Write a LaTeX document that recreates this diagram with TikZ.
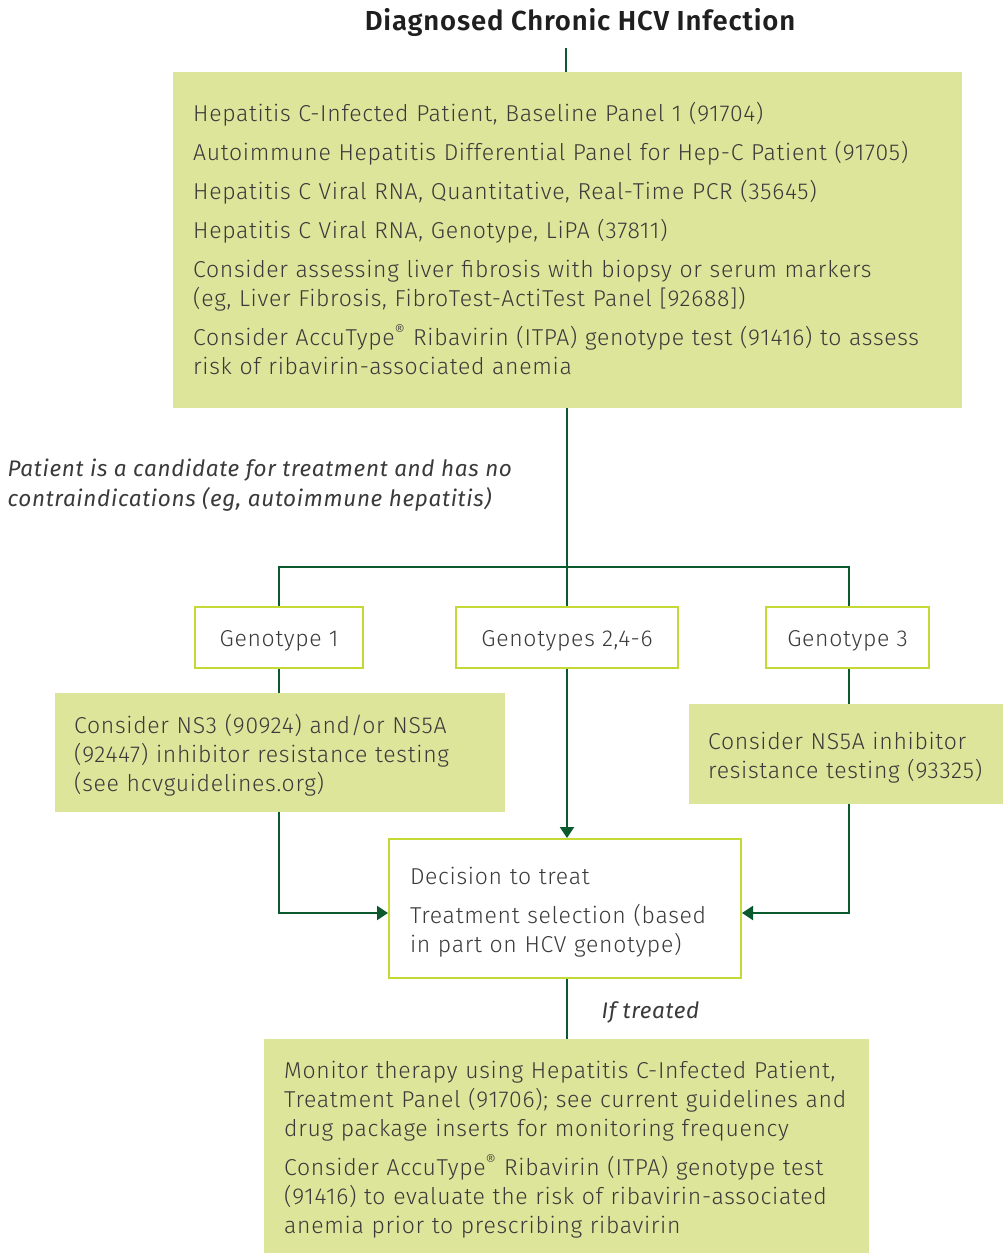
\documentclass[tikz,border=0pt]{standalone}
\usepackage{fontspec}
\setmainfont{Fira Sans}[UprightFont=* Light, ItalicFont=* Italic, BoldFont=* SemiBold, LetterSpace=3]
\usetikzlibrary{arrows.meta}
\definecolor{fillg}{HTML}{DDE59B}
\definecolor{edgeg}{HTML}{C5D934}
\definecolor{lineg}{HTML}{0B5A2E}
\definecolor{txt}{HTML}{3A3A3A}
\newcommand\LN[1]{\mbox{#1}}
\newcommand\TOPR{\rule{0pt}{24.5pt}}
\tikzset{
  fillbox/.style={fill=fillg, draw=none, anchor=north west, inner xsep=20pt, inner ysep=0pt, align=left, text=txt,
     font=\fontsize{23}{29}\selectfont},
  genobox/.style={draw=edgeg, line width=2pt, fill=white, minimum height=61pt, text height=25pt, text depth=5.5pt,
     inner ysep=0pt, text=txt, font=\fontsize{23}{29}\selectfont},
  decbox/.style={draw=edgeg, line width=2pt, fill=white, anchor=north west, inner xsep=21pt, align=left, text=txt,
     font=\fontsize{23}{29}\selectfont},
  conn/.style={draw=lineg, line width=2pt},
  arr/.style={conn, -{Triangle[length=11pt,width=14pt]}},
  lbl/.style={text=txt, font=\fontsize{22.5}{30}\selectfont\itshape, align=left},
}
\begin{document}
\begin{tikzpicture}[x=1pt,y=-1pt]
\useasboundingbox (0,0) rectangle (1004,1253);
\node[font=\fontsize{27.5}{32}\selectfont\bfseries, text=black!88] (title) at (580,22) {Diagnosed Chronic HCV Infection};

\node[fillbox, minimum width=789pt, minimum height=336pt, text width=749pt] (top) at (173,72) {%
\LN{Hepatitis C-Infected Patient, Baseline Panel 1 (91704)}\\[10pt]
\LN{Autoimmune Hepatitis Differential Panel for Hep-C Patient (91705)}\\[10pt]
\LN{Hepatitis C Viral RNA, Quantitative, Real-Time PCR (35645)}\\[10pt]
\LN{Hepatitis C Viral RNA, Genotype, LiPA (37811)}\\[10pt]
\LN{Consider assessing liver fibrosis with biopsy or serum markers}\\
\LN{(eg, Liver Fibrosis, FibroTest-ActiTest Panel [92688])}\\[10pt]
\LN{Consider AccuType\textsuperscript{®} Ribavirin (ITPA) genotype test (91416) to assess}\\
\LN{risk of ribavirin-associated anemia}\rule[-4pt]{0pt}{4pt}};

\node[lbl, anchor=north west] (cand) at (4,455) {\LN{Patient is a candidate for treatment and has no}\\\LN{contraindications (eg, autoimmune hepatitis)}};

\node[genobox, minimum width=168pt] (g1) at (279,637) {Genotype 1};
\node[genobox, minimum width=222pt] (g246) at (567,637) {Genotypes 2,4-6};
\node[genobox, minimum width=163pt] (g3) at (847.5,637) {Genotype 3};

\node[fillbox, minimum width=450pt, minimum height=119pt, inner xsep=19pt, text width=412pt] (ns3) at (55,693) {%
\TOPR\LN{Consider NS3 (90924) and/or NS5A}\\
\LN{(92447) inhibitor resistance testing}\\
\LN{(see hcvguidelines.org)}};

\node[fillbox, minimum width=314pt, minimum height=100pt, inner xsep=19pt, text width=276pt] (ns5a) at (689,704) {%
\TOPR\LN{Consider NS5A inhibitor}\\
\LN{resistance testing (93325)}};

\node[decbox, minimum width=352pt, minimum height=139pt, text width=310pt] (dec) at (388,838) {%
\TOPR\LN{Decision to treat}\\[10pt]
\LN{Treatment selection (based}\\
\LN{in part on HCV genotype)}};

\node[lbl, anchor=west] (ift) at (598,1012) {If treated};

\node[fillbox, minimum width=605pt, minimum height=214pt, text width=565pt] (mon) at (264,1039) {%
\TOPR\LN{Monitor therapy using Hepatitis C-Infected Patient,}\\
\LN{Treatment Panel (91706); see current guidelines and}\\
\LN{drug package inserts for monitoring frequency}\\[10pt]
\LN{Consider AccuType\textsuperscript{®} Ribavirin (ITPA) genotype test}\\
\LN{(91416) to evaluate the risk of ribavirin-associated}\\
\LN{anemia prior to prescribing ribavirin}};

\coordinate (bar) at (567,567);
\coordinate (jy) at (0,913);
\coordinate (tx) at (566,0);
\coordinate (rx) at (849,0);

\draw[conn] (tx |- title.south) ++(0,8) -- (tx |- top.north);
\draw[conn] (top.south -| bar) -- (g246.north -| bar);
\draw[conn] (g1.north) |- (bar) -| (g3.north -| rx);
\draw[conn] (g1.south) -- (g1.south |- ns3.north);
\draw[arr] (g1.south |- ns3.south) |- (dec.west |- jy);
\draw[arr] (g246.south -| bar) -- (dec.north -| bar);
\draw[conn] (g3.south -| rx) -- (ns5a.north -| rx);
\draw[arr] (ns5a.south -| rx) |- (dec.east |- jy);
\draw[conn] (dec.south -| bar) -- (mon.north -| bar);
\end{tikzpicture}
\end{document}
